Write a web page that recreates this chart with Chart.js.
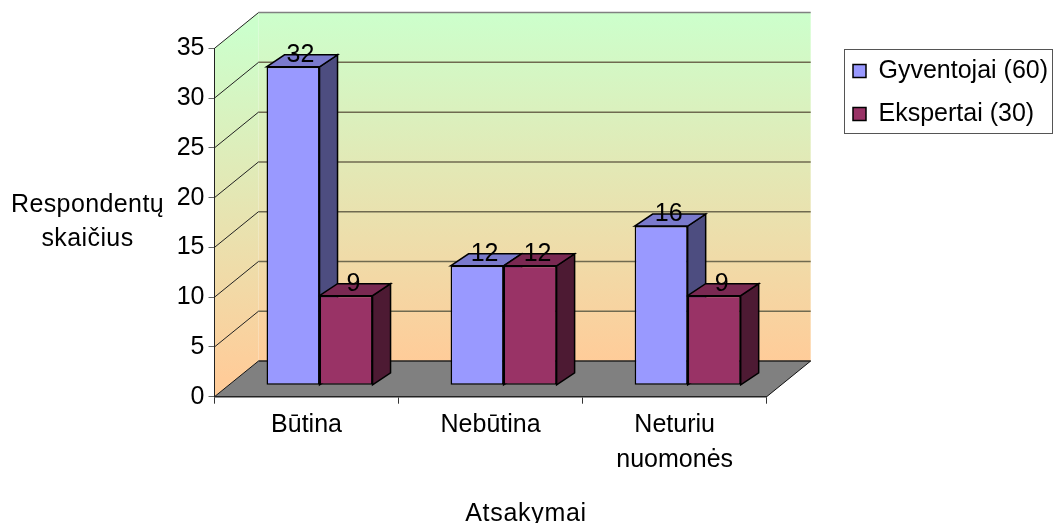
<!DOCTYPE html>
<html><head><meta charset="utf-8">
<style>html,body{margin:0;padding:0;background:#fff}#w{position:relative;width:1053px;height:523px}canvas{display:block}</style>
<script src="https://cdn.jsdelivr.net/npm/chart.js@4"></script>
</head><body><div id="w"><canvas id="c" width="1053" height="523"></canvas></div>
<script>
const categories = [["Būtina"], ["Nebūtina"], ["Neturiu", "nuomonės"]];
const residents = [32, 12, 16];
const experts = [9, 12, 9];
const seriesNames = ["Gyventojai (60)", "Ekspertai (30)"];
const yTitle = ["Respondentų", "skaičius"];
const xTitle = "Atsakymai";

const FONT = '"Liberation Sans", Arial, sans-serif';
const FS = 25;
const WALL = {dx: 44, dy: 35.7};
const BAR = {x: 13, y: 11.4, dx: 18, dy: 12};
const faces = [
  {front: "#9999ff", side: "#4d4d80", top: "#7a7acc"},
  {front: "#993366", side: "#4d1a33", top: "#7a2952"}
];

const poly = (ctx, pts, fill, stroke, lw) => {
  ctx.beginPath();
  pts.forEach((p, i) => i ? ctx.lineTo(p[0], p[1]) : ctx.moveTo(p[0], p[1]));
  ctx.closePath();
  if (fill) { ctx.fillStyle = fill; ctx.fill(); }
  if (stroke) { ctx.strokeStyle = stroke; ctx.lineWidth = lw; ctx.lineJoin = "miter"; ctx.stroke(); }
};
const line = (ctx, a, b, color, lw) => {
  ctx.beginPath(); ctx.moveTo(a[0], a[1]); ctx.lineTo(b[0], b[1]);
  ctx.strokeStyle = color; ctx.lineWidth = lw; ctx.stroke();
};

const scene = {
  id: "scene",
  afterLayout(chart) {
    chart.legend.left = 835; chart.legend.right = 1053;
    chart.legend.top = 40.5; chart.legend.bottom = 300;
  },
  beforeDraw(chart) {
    const {ctx, chartArea: a, scales: {y}} = chart;
    ctx.save();
    const T = a.top, B = a.bottom, L = a.left, R = a.right;
    const {dx, dy} = WALL;
    const g = ctx.createLinearGradient(0, T - dy, 0, B - dy);
    g.addColorStop(0, "#ccffcc"); g.addColorStop(1, "#ffcc99");
    poly(ctx, [[L + dx, T - dy], [R + dx, T - dy], [R + dx, B - dy], [L + dx, B - dy]], g);
    const g2 = ctx.createLinearGradient(0, T - dy / 2, 0, B - dy / 2);
    g2.addColorStop(0, "#ccffcc"); g2.addColorStop(1, "#ffcc99");
    poly(ctx, [[L, T], [L + dx, T - dy], [L + dx, B - dy], [L, B]], g2);
    poly(ctx, [[L, B], [L + dx, B - dy], [R + dx, B - dy], [R, B]], "#808080");
    y.ticks.forEach(t => {
      const p = y.getPixelForValue(t.value);
      if (t.value > 0) {
        line(ctx, [L + dx, p - dy], [R + dx, p - dy], t.value === 35 ? "#808080" : "#6f6a50", 1.5);
        line(ctx, [L, p], [L + dx, p - dy], "#222", 1);
      }
    });
    line(ctx, [L, B], [L + dx, B - dy], "#111", 1);
    line(ctx, [L + dx, B - dy], [R + dx, B - dy], "#222", 1.5);
    line(ctx, [R, B], [R + dx, B - dy], "#111", 1);
    // legend frame
    ctx.fillStyle = "#fff"; ctx.strokeStyle = "#555"; ctx.lineWidth = 1;
    ctx.fillRect(844.5, 49.5, 208, 84); ctx.strokeRect(844.5, 49.5, 208, 84);
    // axis titles, both set horizontally
    ctx.fillStyle = "#000"; ctx.font = FS + "px " + FONT;
    ctx.textAlign = "center"; ctx.textBaseline = "alphabetic";
    ctx.letterSpacing = "0.4px";
    yTitle.forEach((s, i) => ctx.fillText(s, 87.5, 211.7 + i * 34.5));
    ctx.letterSpacing = "0.7px";
    ctx.fillText(xTitle, 526, 521);
    ctx.letterSpacing = "0px";
    ctx.restore();
  },
  beforeDatasetsDraw(chart) {
    const {ctx} = chart;
    ctx.save();
    ctx.translate(BAR.x, -BAR.y);
    chart.data.datasets.forEach((ds, i) => {
      chart.getDatasetMeta(i).data.forEach(el => {
        const p = el.getProps(["x", "y", "base", "width"], true);
        const l = p.x - p.width / 2, r = p.x + p.width / 2, t = p.y, b = p.base;
        poly(ctx, [[r, t], [r + BAR.dx, t - BAR.dy], [r + BAR.dx, b - BAR.dy], [r, b]], faces[i].side, "#000", 1.5);
        poly(ctx, [[l, t], [l + BAR.dx, t - BAR.dy], [r + BAR.dx, t - BAR.dy], [r, t]], faces[i].top, "#000", 1.5);
      });
    });
  },
  afterDatasetsDraw(chart) {
    const {ctx} = chart;
    ctx.restore();
    ctx.save();
    ctx.fillStyle = "#000"; ctx.font = FS + "px " + FONT;
    ctx.textAlign = "center"; ctx.textBaseline = "middle";
    chart.data.datasets.forEach((ds, i) => {
      chart.getDatasetMeta(i).data.forEach((el, k) => {
        const p = el.getProps(["x", "y"], true);
        ctx.fillText(String(ds.data[k]), p.x + BAR.x + 7.5, p.y - BAR.y - 12);
      });
    });
    ctx.restore();
  }
};

new Chart(document.getElementById("c"), {
  type: "bar",
  data: {
    labels: categories,
    datasets: [
      {label: seriesNames[0], data: residents, backgroundColor: faces[0].front, borderColor: "#000", borderWidth: 1.5, borderSkipped: false},
      {label: seriesNames[1], data: experts, backgroundColor: faces[1].front, borderColor: "#000", borderWidth: 1.5, borderSkipped: false}
    ]
  },
  options: {
    responsive: false, animation: false,
    categoryPercentage: 106 / 184, barPercentage: 1,
    layout: {padding: {left: 114.5, right: 286.3, top: 48.3, bottom: 0}},
    plugins: {
      legend: {
        position: "chartArea", align: "start",
        labels: {boxWidth: 13, boxHeight: 13, padding: 18, color: "#000", font: {family: FONT, size: FS}}
      },
      tooltip: {enabled: false}
    },
    scales: {
      x: {
        afterFit: s => { s.height = 126.3; },
        grid: {drawOnChartArea: false, tickColor: "#333", tickLength: 7},
        border: {color: "#222", width: 1.5},
        ticks: {color: "#000", padding: 4, maxRotation: 0, font: {family: FONT, size: FS, lineHeight: 1.4}}
      },
      y: {
        min: 0, max: 35,
        afterFit: s => { s.width = 100; },
        grid: {drawOnChartArea: false, tickColor: "#666", tickLength: 6},
        border: {color: "#222", width: 1},
        ticks: {stepSize: 5, color: "#000", padding: 4, font: {family: FONT, size: FS}}
      }
    }
  },
  plugins: [scene]
});
</script></body></html>
